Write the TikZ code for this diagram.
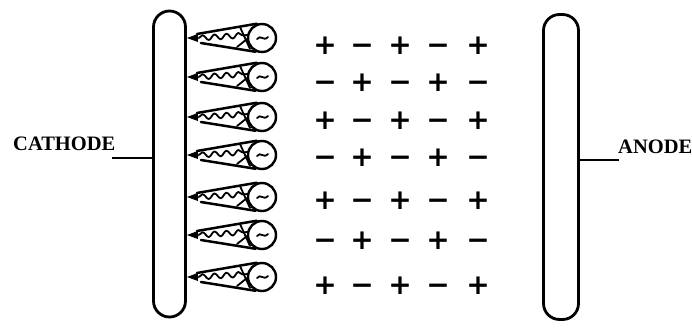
\documentclass[tikz,border=0pt]{standalone}
\usepackage{fontspec}
\setmainfont{Liberation Serif}
\newfontfamily\signfont{DejaVu Sans}
\usetikzlibrary{calc,decorations.pathmorphing}
\begin{document}
\begin{tikzpicture}[x=1pt,y=-1pt,
  electrode/.style={draw, line width=2.8pt, rounded corners=16pt, inner sep=0pt},
  lead/.style={line width=2.4pt},
  tag/.style={font=\bfseries\fontsize{20.5}{21}\selectfont, inner sep=0pt, anchor=base west},
  sign/.style={font=\signfont\bfseries\fontsize{28}{28}\selectfont, inner sep=0pt,
    text height=18.6pt, text depth=0pt},
  cone/.style={line width=2.5pt, line cap=round},
  bulb/.style={draw, circle, line width=2.4pt, minimum size=28pt, inner sep=0pt},
  filament/.style={line width=1.8pt, line cap=round, line join=round}
]
\useasboundingbox (0,0) rectangle (692,327);

% electrodes
\node[electrode, minimum width=32pt, minimum height=306pt] (cathode) at (169.5,164) {};
\node[electrode, minimum width=35pt, minimum height=305pt] (anode) at (561,167) {};

% labels and leads
\node[tag] (cathtext) at (13,150) {CATHODE};
\coordinate (cl) at (112,158);
\draw[lead] (cl) -- (cl -| cathode.west);
\node[tag] (antext) at (618,153) {ANODE};
\coordinate (al) at (619,160);
\draw[lead] (anode.east |- al) -- (al);

% field emitters on the cathode
\foreach \i/\y in {1/38,2/77,3/117,4/155,5/197,6/235,7/277}{
  \node[bulb] (b\i) at (262,\y) {};
  \coordinate (t\i) at (cathode.east |- b\i);
  % cone walls
  \draw[cone] ($(t\i)+(10,-4)$) -- (b\i.110);
  \draw[cone] ($(t\i)+(14,5)$) -- (b\i.245);
  % tip
  \fill (t\i) -- ++(11,-4) -- ++(0,8) -- cycle;
  \fill ($(t\i)+(9,0)$) circle (2.8pt);
  % filament
  \draw[filament, decorate, decoration={snake, amplitude=2.6pt, segment length=12pt}]
    ($(t\i)+(12,0)$) -- ($(b\i)+(-14,-3)$);
  \draw[filament] ($(b\i)+(-22,-11)$) -- ($(b\i)+(-12,11)$);
  \draw[filament] ($(b\i)+(-25,9)$) -- ($(b\i)+(-15,1)$);
  % squiggle in the bulb
  \draw[filament] ($(b\i)+(-5,1)$) .. controls ($(b\i)+(-1,-4)$) and ($(b\i)+(1,4)$) .. ($(b\i)+(6,-1)$);
}

% charge layers
\foreach \r/\y in {0/45,1/82,2/120,3/157,4/200,5/240,6/285}{
  \foreach \c/\x in {0/325,1/362,2/400,3/438,4/478}{
    \pgfmathtruncatemacro{\parity}{mod(\r+\c,2)}
    \ifnum\parity=0
      \node[sign] (s\r\c) at (\x,\y) {+};
    \else
      \node[sign] (s\r\c) at (\x,\y) {−};
    \fi
  }
}
\end{tikzpicture}
\end{document}
